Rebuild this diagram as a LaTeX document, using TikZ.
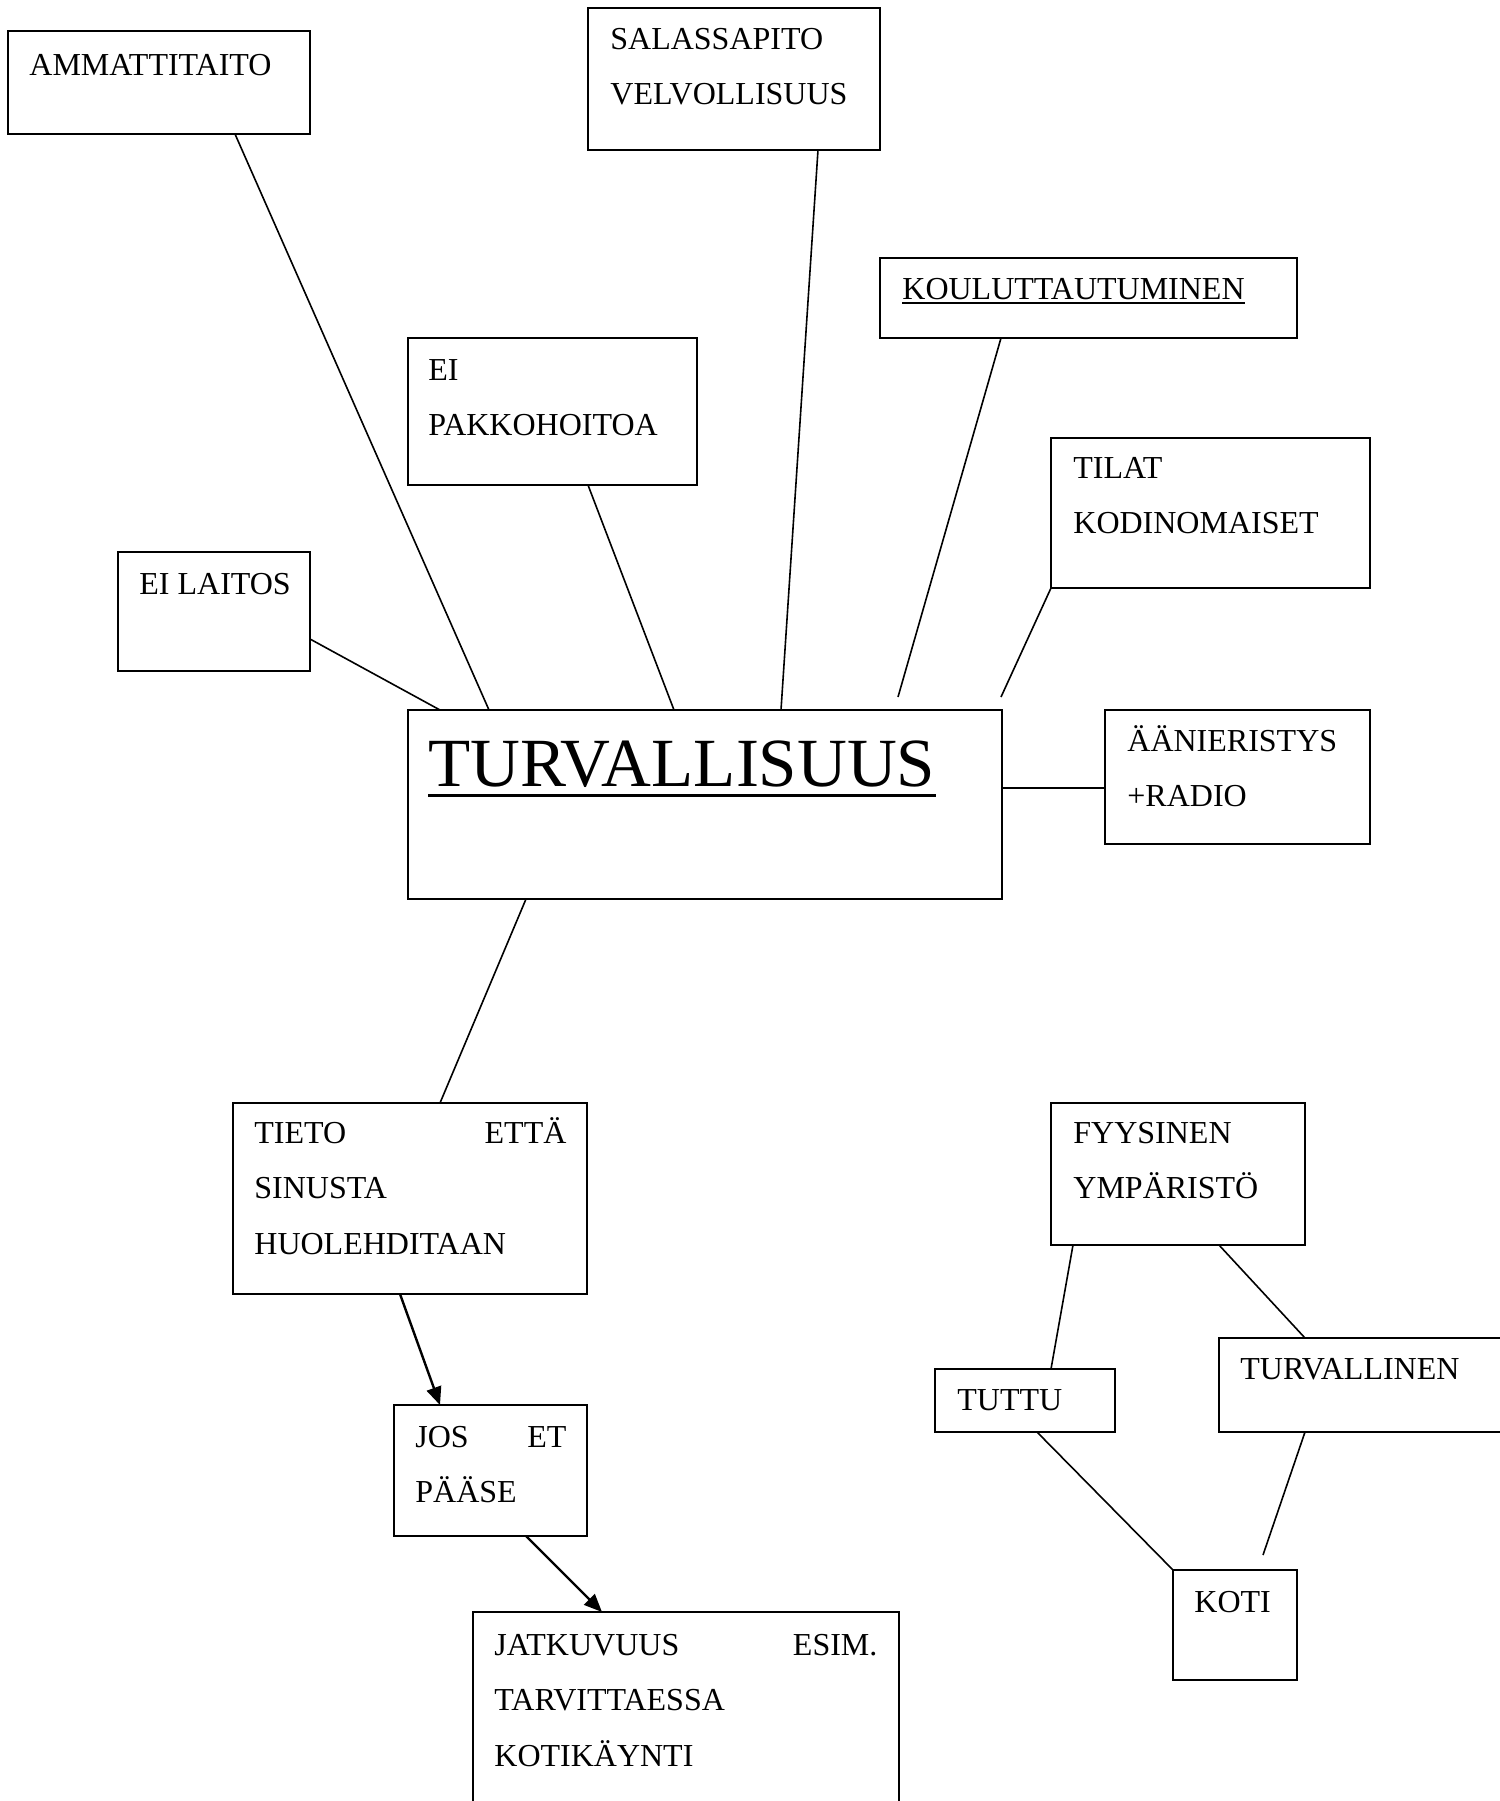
\documentclass[tikz,border=0pt]{standalone}
\usepackage{fontspec}
\setmainfont{Liberation Serif}
\usetikzlibrary{arrows.meta,calc,fit}
% multi-line label whose baseline is its first line
\newcommand\lns[1]{\parbox[t]{300pt}{\fontsize{16pt}{27.75pt}\selectfont #1}}
\begin{document}
\begin{tikzpicture}[x=0.5pt,y=-0.5pt,
  box/.style={draw, line width=1pt, inner sep=0pt, outer sep=0pt, rectangle},
  txt/.style={inner sep=0pt, anchor=base west, font=\fontsize{16pt}{27.75pt}\selectfont},
  link/.style={line width=0.8pt},
  flow/.style={line width=1.2pt, -{Triangle[length=9pt,width=7.5pt]}},
]
\useasboundingbox (0,0) rectangle (1500,1801);
\clip (0,0) rectangle (1500,1801);

% boxes
\node[box, fit={(8,31) (310,134)}] (amm) {};
\node[box, fit={(588,8) (880,150)}] (sal) {};
\node[box, fit={(880,258) (1297,338)}] (kou) {};
\node[box, fit={(408,338) (697,485)}] (pak) {};
\node[box, fit={(1051,438) (1370,588)}] (til) {};
\node[box, fit={(118,552) (310,671)}] (lai) {};
\node[box, fit={(408,710) (1002,899)}] (tur) {};
\node[box, fit={(1105,710) (1370,844)}] (aan) {};
\node[box, fit={(233,1103) (587,1294)}] (tie) {};
\node[box, fit={(394,1405) (587,1536)}] (jos) {};
\node[box, fit={(473,1612) (899,1830)}] (jat) {};
\node[box, fit={(1051,1103) (1305,1245)}] (fyy) {};
\node[box, fit={(935,1369) (1115,1432)}] (tut) {};
\node[box, fit={(1219,1338) (1520,1432)}] (tvl) {};
\node[box, fit={(1173,1570) (1297,1680)}] (kot) {};

% texts
\node[txt] (ammT) at (29,75) {AMMATTITAITO};
\node[txt] (salT) at (610,49) {\lns{SALASSAPITO\\VELVOLLISUUS}};
\node[txt] (kouT) at (902,299) {KOULUTTAUTUMINEN};
\draw[line width=0.75pt] ($(kouT.base west)+(0,4)$) -- ($(kouT.base east)+(0,4)$);
\node[txt] (pakT) at (428,380) {\lns{EI\\PAKKOHOITOA}};
\node[txt] (tilT) at (1073,478) {\lns{TILAT\\KODINOMAISET}};
\node[txt] (laiT) at (139,594) {EI LAITOS};
\node[txt, font=\fontsize{34.5pt}{40pt}\selectfont] (turT) at (428,786) {TURVALLISUUS};
\draw[line width=1.5pt] ($(turT.base west)+(0,9)$) -- ($(turT.base east)+(0,9)$);
\node[txt] (aanT) at (1127,751) {\lns{ÄÄNIERISTYS\\+RADIO}};
\node[txt] (tieT) at (254,1143) {\lns{\makebox[156pt][s]{TIETO ETTÄ}\\SINUSTA\\HUOLEHDITAAN}};
\node[txt] (josT) at (415,1447) {\lns{\makebox[75.5pt][s]{JOS ET}\\PÄÄSE}};
\node[txt] (jatT) at (494,1655) {\lns{\makebox[191.5pt][s]{JATKUVUUS ESIM.}\\TARVITTAESSA\\KOTIKÄYNTI}};
\node[txt] (fyyT) at (1073,1143) {\lns{FYYSINEN\\YMPÄRISTÖ}};
\node[txt] (tutT) at (957,1410) {TUTTU};
\node[txt] (tvlT) at (1240,1379) {TURVALLINEN};
\node[txt] (kotT) at (1194,1612) {KOTI};

% loose ends of two spokes and of one link
\coordinate (kouEnd) at (898,697);
\coordinate (tilEnd) at (1001,697);
\coordinate (tvlEnd) at (1263,1555);

% spokes around the centre
\draw[link] ($(amm.south west)+(227,0)$) -- ($(tur.north west)+(81,0)$);
\draw[link] ($(sal.south west)+(230,0)$) -- ($(tur.north west)+(373,0)$);
\draw[link] ($(kou.south west)+(121,0)$) -- (kouEnd);
\draw[link] (til.south west) -- (tilEnd);
\draw[link] ($(pak.south west)+(180,0)$) -- ($(tur.north west)+(266,0)$);
\draw[link] ($(lai.south east)+(0,-32)$) -- ($(tur.north west)+(32,0)$);
\draw[link] ($(tur.north east)+(0,78)$) -- ($(aan.north west)+(0,78)$);
\draw[link] ($(tur.south west)+(118,0)$) -- ($(tie.north west)+(207,0)$);

% chain with arrows
\draw[flow] ($(tie.south west)+(167,0)$) -- ($(jos.north west)+(46,0)$);
\draw[flow] ($(jos.south west)+(132,0)$) -- ($(jat.north west)+(129,0)$);

% physical environment group
\draw[link] ($(fyy.south west)+(22,0)$) -- ($(tut.north west)+(116,0)$);
\draw[link] ($(fyy.south west)+(168,0)$) -- ($(tvl.north west)+(86,0)$);
\draw[link] ($(tut.south west)+(102,0)$) -- (kot.north west);
\draw[link] ($(tvl.south west)+(86,0)$) -- (tvlEnd);
\end{tikzpicture}
\end{document}
